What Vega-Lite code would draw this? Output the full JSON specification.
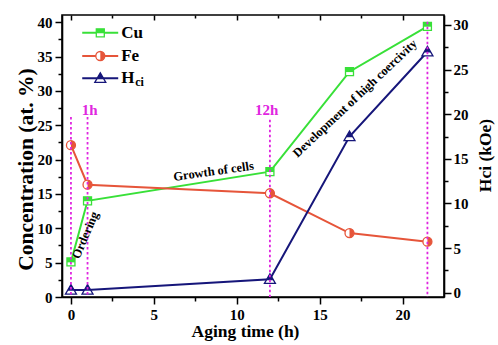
{
  "$schema": "https://vega.github.io/schema/vega-lite/v6.json",
  "width": 382,
  "height": 282,
  "autosize": {"type": "none"},
  "padding": {"left": 62, "top": 15, "right": 54, "bottom": 48},
  "background": "white",
  "config": {
    "view": {"stroke": "black", "strokeWidth": 1.6},
    "font": "Liberation Serif",
    "axis": {
      "grid": false,
      "domainColor": "black", "domainWidth": 1.6,
      "tickColor": "black", "tickWidth": 1.5,
      "labelColor": "black", "labelFont": "Liberation Serif", "labelFontWeight": "bold", "labelFontSize": 15,
      "labelOverlap": false, "labelFlush": false,
      "titleColor": "black", "titleFont": "Liberation Serif", "titleFontWeight": "bold"
    }
  },
  "datasets": {
    "conc": [
      {"t": 0, "value": 5.1, "series": "Cu"},
      {"t": 1, "value": 14.0, "series": "Cu"},
      {"t": 12, "value": 18.25, "series": "Cu"},
      {"t": 16.8, "value": 32.8, "series": "Cu"},
      {"t": 21.5, "value": 39.4, "series": "Cu"},
      {"t": 0, "value": 22.1, "series": "Fe"},
      {"t": 1, "value": 16.35, "series": "Fe"},
      {"t": 12, "value": 15.1, "series": "Fe"},
      {"t": 16.8, "value": 9.3, "series": "Fe"},
      {"t": 21.5, "value": 8.05, "series": "Fe"}
    ],
    "hci": [
      {"t": 0, "value": 0.3},
      {"t": 1, "value": 0.3},
      {"t": 12, "value": 1.5},
      {"t": 16.8, "value": 17.5},
      {"t": 21.5, "value": 27.0}
    ],
    "legend": [
      {"series": "Cu", "main": "Cu", "sub": "", "from": 0.68, "t": 1.77, "to": 2.85, "value": 38.45},
      {"series": "Fe", "main": "Fe", "sub": "", "from": 0.68, "t": 1.77, "to": 2.85, "value": 35.08},
      {"series": "Hci", "main": "H", "sub": "ci", "from": 0.68, "t": 1.77, "to": 2.85, "value": 31.83}
    ],
    "guides": [
      {"t": 0, "top": 26.2},
      {"t": 1, "top": 26.2},
      {"t": 12, "top": 25.8},
      {"t": 21.5, "top": 40.07}
    ],
    "phases": [
      {"t": 1.13, "value": 27.2, "text": "1h"},
      {"t": 11.8, "value": 27.2, "text": "12h"}
    ],
    "notes": [
      {"t": 0.86, "value": 9.0, "text": "Ordering"},
      {"t": 8.6, "value": 18.3, "text": "Growth of cells"},
      {"t": 17.13, "value": 28.93, "text": "Development of high coercivity"}
    ]
  },
  "layer": [
    {
      "layer": [
        {
          "data": {"name": "conc"},
          "mark": {"type": "line", "strokeWidth": 2},
          "encoding": {
            "x": {"field": "t", "type": "quantitative", "scale": {"domain": [-0.54, 22.5], "nice": false},
              "axis": {"orient": "bottom", "values": [0, 5, 10, 15, 20], "tickSize": 7,
                "labelPadding": 3, "title": "Aging time (h)", "titleFontSize": 17.5,
                "titleX": 183, "titleY": 39.5, "titleBaseline": "alphabetic", "titleAlign": "center"}},
            "y": {"field": "value", "type": "quantitative", "scale": {"domain": [0, 41.05], "nice": false},
              "axis": {"orient": "left", "values": [0, 5, 10, 15, 20, 25, 30, 35, 40], "tickSize": 7,
                "labelPadding": 3, "title": "Concentration (at. %)", "titleFontSize": 21.5,
                "titleAngle": 270, "titleX": -30, "titleY": 154, "titleBaseline": "alphabetic", "titleAlign": "center"}},
            "color": {"field": "series", "type": "nominal", "scale": {"domain": ["Cu", "Fe", "Hci"], "range": ["#38e038", "#e6553a", "#16167a"]}, "legend": null}
          }
        },
        {
          "data": {"name": "conc"},
          "transform": [{"filter": "datum.series === 'Cu'"}],
          "mark": {"type": "point", "shape": "square", "size": 64, "filled": true, "fill": "white", "stroke": "#38e038", "strokeWidth": 1.3, "opacity": 1},
          "encoding": {
            "x": {"field": "t", "type": "quantitative",
              "axis": {"orient": "bottom", "values": [2.5, 7.5, 12.5, 17.5], "tickSize": 4, "labels": false, "domain": false, "title": null}},
            "y": {"field": "value", "type": "quantitative",
              "axis": {"orient": "left", "values": [2.5, 7.5, 12.5, 17.5, 22.5, 27.5, 32.5, 37.5], "tickSize": 4, "labels": false, "domain": false, "title": null}}
          }
        },
        {
          "data": {"name": "conc"},
          "transform": [{"filter": "datum.series === 'Cu'"}],
          "mark": {"type": "point", "shape": "M-1,-1H1V0.1H-1Z", "size": 64, "filled": true, "fill": "#38e038", "strokeWidth": 0, "opacity": 1},
          "encoding": {
            "x": {"field": "t", "type": "quantitative", "axis": null},
            "y": {"field": "value", "type": "quantitative", "axis": null}
          }
        },
        {
          "data": {"name": "conc"},
          "transform": [{"filter": "datum.series === 'Fe'"}],
          "mark": {"type": "point", "shape": "circle", "size": 81, "filled": true, "fill": "white", "stroke": "#e6553a", "strokeWidth": 1.3, "opacity": 1},
          "encoding": {
            "x": {"field": "t", "type": "quantitative", "axis": null},
            "y": {"field": "value", "type": "quantitative", "axis": null}
          }
        },
        {
          "data": {"name": "conc"},
          "transform": [{"filter": "datum.series === 'Fe'"}],
          "mark": {"type": "point", "shape": "M0,-1A1,1,0,0,1,0,1Z", "size": 81, "filled": true, "fill": "#e6553a", "strokeWidth": 0, "opacity": 1},
          "encoding": {
            "x": {"field": "t", "type": "quantitative", "axis": null},
            "y": {"field": "value", "type": "quantitative", "axis": null}
          }
        },
        {
          "data": {"name": "legend"},
          "mark": {"type": "rule", "strokeWidth": 2},
          "encoding": {
            "x": {"field": "from", "type": "quantitative", "axis": null},
            "x2": {"field": "to"},
            "y": {"field": "value", "type": "quantitative", "axis": null},
            "color": {"field": "series", "type": "nominal", "legend": null}
          }
        },
        {
          "data": {"name": "legend"},
          "transform": [{"filter": "datum.series === 'Cu'"}],
          "mark": {"type": "point", "shape": "square", "size": 64, "filled": true, "fill": "white", "stroke": "#38e038", "strokeWidth": 1.3, "opacity": 1},
          "encoding": {
            "x": {"field": "t", "type": "quantitative", "axis": null},
            "y": {"field": "value", "type": "quantitative", "axis": null}
          }
        },
        {
          "data": {"name": "legend"},
          "transform": [{"filter": "datum.series === 'Cu'"}],
          "mark": {"type": "point", "shape": "M-1,-1H1V0.1H-1Z", "size": 64, "filled": true, "fill": "#38e038", "strokeWidth": 0, "opacity": 1},
          "encoding": {
            "x": {"field": "t", "type": "quantitative", "axis": null},
            "y": {"field": "value", "type": "quantitative", "axis": null}
          }
        },
        {
          "data": {"name": "legend"},
          "transform": [{"filter": "datum.series === 'Fe'"}],
          "mark": {"type": "point", "shape": "circle", "size": 81, "filled": true, "fill": "white", "stroke": "#e6553a", "strokeWidth": 1.3, "opacity": 1},
          "encoding": {
            "x": {"field": "t", "type": "quantitative", "axis": null},
            "y": {"field": "value", "type": "quantitative", "axis": null}
          }
        },
        {
          "data": {"name": "legend"},
          "transform": [{"filter": "datum.series === 'Fe'"}],
          "mark": {"type": "point", "shape": "M0,-1A1,1,0,0,1,0,1Z", "size": 81, "filled": true, "fill": "#e6553a", "strokeWidth": 0, "opacity": 1},
          "encoding": {
            "x": {"field": "t", "type": "quantitative", "axis": null},
            "y": {"field": "value", "type": "quantitative", "axis": null}
          }
        },
        {
          "data": {"name": "legend"},
          "transform": [{"filter": "datum.series === 'Hci'"}],
          "mark": {"type": "point", "shape": "M0,-1L1,0.75L-1,0.75Z", "size": 121, "filled": true, "fill": "white", "stroke": "#16167a", "strokeWidth": 1.3, "opacity": 1},
          "encoding": {
            "x": {"field": "t", "type": "quantitative", "axis": null},
            "y": {"field": "value", "type": "quantitative", "axis": null}
          }
        },
        {
          "data": {"name": "legend"},
          "transform": [{"filter": "datum.series === 'Hci'"}],
          "mark": {"type": "point", "shape": "M0,-1L0.657,0.15L-0.657,0.15Z", "size": 121, "filled": true, "fill": "#16167a", "strokeWidth": 0, "opacity": 1},
          "encoding": {
            "x": {"field": "t", "type": "quantitative", "axis": null},
            "y": {"field": "value", "type": "quantitative", "axis": null}
          }
        },
        {
          "data": {"name": "legend"},
          "mark": {"type": "text", "align": "left", "baseline": "middle", "dx": 3, "font": "Liberation Serif", "fontWeight": "bold", "fontSize": 17, "color": "black"},
          "encoding": {
            "x": {"field": "to", "type": "quantitative", "axis": null},
            "y": {"field": "value", "type": "quantitative", "axis": null},
            "text": {"field": "main"}
          }
        },
        {
          "data": {"name": "legend"},
          "mark": {"type": "text", "align": "left", "baseline": "middle", "dx": 17, "dy": 4, "font": "Liberation Serif", "fontWeight": "bold", "fontSize": 12, "color": "black"},
          "encoding": {
            "x": {"field": "to", "type": "quantitative", "axis": null},
            "y": {"field": "value", "type": "quantitative", "axis": null},
            "text": {"field": "sub"}
          }
        }
      ],
      "resolve": {"axis": {"x": "independent", "y": "independent"}}
    },
    {
      "layer": [
        {
          "data": {"name": "hci"},
          "mark": {"type": "line", "strokeWidth": 2, "color": "#16167a"},
          "encoding": {
            "x": {"field": "t", "type": "quantitative", "scale": {"domain": [-0.54, 22.5], "nice": false},
              "axis": {"orient": "top", "values": [0, 5, 10, 15, 20], "labels": false, "domain": false, "tickSize": -5, "title": null}},
            "y": {"field": "value", "type": "quantitative", "scale": {"domain": [-0.48, 31.12], "nice": false},
              "axis": {"orient": "right", "values": [0, 5, 10, 15, 20, 25, 30], "tickSize": 7,
                "labelPadding": 2, "title": "Hci (kOe)", "titleFontSize": 17.5,
                "titleAngle": 270, "titleX": 46, "titleY": 140, "titleBaseline": "alphabetic", "titleAlign": "center"}}
          }
        },
        {
          "data": {"name": "hci"},
          "mark": {"type": "point", "shape": "M0,-1L1,0.75L-1,0.75Z", "size": 121, "filled": true, "fill": "white", "stroke": "#16167a", "strokeWidth": 1.3, "opacity": 1},
          "encoding": {
            "x": {"field": "t", "type": "quantitative",
              "axis": {"orient": "top", "values": [2.5, 7.5, 12.5, 17.5], "labels": false, "domain": false, "tickSize": -3, "title": null}},
            "y": {"field": "value", "type": "quantitative",
              "axis": {"orient": "right", "values": [2.5, 7.5, 12.5, 17.5, 22.5, 27.5], "tickSize": 4, "labels": false, "domain": false, "title": null}}
          }
        },
        {
          "data": {"name": "hci"},
          "mark": {"type": "point", "shape": "M0,-1L0.657,0.15L-0.657,0.15Z", "size": 121, "filled": true, "fill": "#16167a", "strokeWidth": 0, "opacity": 1},
          "encoding": {
            "x": {"field": "t", "type": "quantitative", "axis": null},
            "y": {"field": "value", "type": "quantitative", "axis": null}
          }
        }
      ],
      "resolve": {"axis": {"x": "independent", "y": "independent"}}
    },
    {
      "layer": [
        {
          "data": {"name": "guides"},
          "mark": {"type": "rule", "color": "#e026e0", "strokeWidth": 1.8, "strokeDash": [2.5, 2.5]},
          "encoding": {
            "x": {"field": "t", "type": "quantitative", "scale": {"domain": [-0.54, 22.5], "nice": false}, "axis": null},
            "y": {"field": "top", "type": "quantitative", "scale": {"domain": [0, 41.05], "nice": false}, "axis": null},
            "y2": {"datum": 0}
          }
        },
        {
          "data": {"name": "phases"},
          "mark": {"type": "text", "align": "center", "baseline": "middle", "font": "Liberation Serif", "fontWeight": "bold", "fontSize": 15, "color": "#e026e0"},
          "encoding": {
            "x": {"field": "t", "type": "quantitative", "axis": null},
            "y": {"field": "value", "type": "quantitative", "axis": null},
            "text": {"field": "text"}
          }
        },
        {
          "data": {"name": "notes"},
          "transform": [{"filter": "datum.text === 'Ordering'"}],
          "mark": {"type": "text", "align": "center", "baseline": "middle", "angle": -67, "font": "Liberation Serif", "fontWeight": "bold", "fontSize": 12.5, "color": "black"},
          "encoding": {
            "x": {"field": "t", "type": "quantitative", "axis": null},
            "y": {"field": "value", "type": "quantitative", "axis": null},
            "text": {"field": "text"}
          }
        },
        {
          "data": {"name": "notes"},
          "transform": [{"filter": "datum.text === 'Growth of cells'"}],
          "mark": {"type": "text", "align": "center", "baseline": "middle", "angle": -8, "font": "Liberation Serif", "fontWeight": "bold", "fontSize": 12.5, "color": "black"},
          "encoding": {
            "x": {"field": "t", "type": "quantitative", "axis": null},
            "y": {"field": "value", "type": "quantitative", "axis": null},
            "text": {"field": "text"}
          }
        },
        {
          "data": {"name": "notes"},
          "transform": [{"filter": "datum.text === 'Development of high coercivity'"}],
          "mark": {"type": "text", "align": "center", "baseline": "middle", "angle": -43.3, "font": "Liberation Serif", "fontWeight": "bold", "fontSize": 12.5, "color": "black"},
          "encoding": {
            "x": {"field": "t", "type": "quantitative", "axis": null},
            "y": {"field": "value", "type": "quantitative", "axis": null},
            "text": {"field": "text"}
          }
        }
      ]
    }
  ],
  "resolve": {"scale": {"y": "independent"}, "axis": {"x": "independent", "y": "independent"}}
}
